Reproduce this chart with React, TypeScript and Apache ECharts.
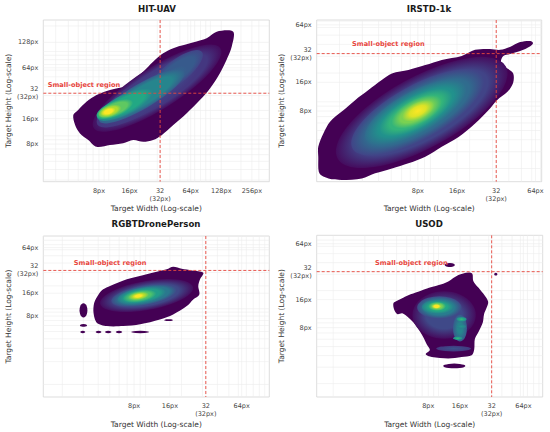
import React, { useEffect, useRef } from 'react';
import * as echarts from 'echarts';

// ---------- data (all positions in log2(px) units) ----------
const TITLES = ['HIT-UAV', 'IRSTD-1k', 'RGBTDronePerson', 'USOD'];
const X_TICKS_PX = [[8, 16, 32, 64, 128, 256], [8, 16, 32, 64], [8, 16, 32, 64], [8, 16, 32, 64]];
const Y_TICKS_PX = [[8, 16, 32, 64, 128], [8, 16, 32, 64], [8, 16, 32, 64], [8, 16, 32, 64]];
const X_RANGE = [[1.18, 8.57], [0.42, 6.16], [0.47, 6.77], [-0.52, 6.61]];
const Y_RANGE = [[1.52, 7.88], [0.54, 6.17], [-0.55, 6.51], [0.52, 6.3]];
const GRID_PX = [1, 2, 3, 4, 5, 6, 7, 8, 9, 10, 20, 30, 40, 50, 60, 70, 80, 90, 100, 200, 300, 400, 500, 16, 32, 64, 128, 256];
const THRESHOLD_PX = 32;
const LABEL_ANCHOR_PX = [2.5, 40];

// outer density contour (width, height) in log2 px
const OUTLINE_HIT = [
  [2.16, 4.14], [2.22, 3.75], [2.38, 3.42], [2.65, 3.16], [2.92, 2.89], [3.36, 2.96], [3.79, 3.03], [4.12, 3.16],
  [4.45, 3.09], [4.77, 3.16], [5.05, 3.35], [5.43, 3.75], [5.87, 4.21], [6.3, 4.73], [6.63, 5.19], [6.95, 5.78],
  [7.17, 6.31], [7.34, 6.83], [7.39, 7.42], [6.85, 7.42], [6.52, 7.16], [6.19, 7.03], [5.43, 6.77], [5.1, 6.57],
  [4.77, 6.24], [4.45, 5.85], [4.12, 5.52], [3.91, 5.28], [3.36, 5.13], [2.92, 4.93], [2.6, 4.67], [2.32, 4.34],
];
const OUTLINE_IRSTD = [
  [0.46, 1.41], [0.49, 0.83], [0.72, 0.65], [1.06, 0.6], [1.57, 0.65], [1.91, 0.83], [2.34, 1.0], [2.76, 1.18],
  [3.19, 1.41], [3.61, 1.76], [4.04, 2.1], [4.46, 2.57], [4.8, 3.03], [5.02, 3.38], [5.28, 3.66], [5.43, 3.98],
  [5.43, 4.32], [5.23, 4.53], [5.12, 4.71], [5.18, 4.92], [5.35, 4.99], [5.61, 5.09], [5.87, 5.26], [5.94, 5.37],
  [5.87, 5.44], [5.61, 5.4], [5.35, 5.23], [5.1, 5.13], [4.84, 5.16], [4.46, 5.13], [4.12, 4.92], [3.61, 4.78],
  [3.19, 4.6], [2.76, 4.43], [2.34, 4.31], [2.08, 4.08], [1.74, 3.73], [1.4, 3.38], [1.06, 2.98], [0.76, 2.63],
  [0.59, 2.22], [0.46, 1.76],
];
const OUTLINE_RGBT = [
  [2.33, 4.32], [2.8, 4.61], [3.35, 4.83], [3.91, 5.05], [4.09, 5.16], [4.33, 5.07], [4.61, 5.0], [4.93, 4.9],
  [4.84, 4.61], [4.79, 4.32], [4.82, 3.95], [4.65, 3.73], [4.47, 3.44], [4.09, 3.07], [3.72, 2.85], [3.17, 2.64],
  [2.7, 2.56], [2.24, 2.56], [1.96, 2.71], [1.87, 3.14], [1.89, 3.58], [2.01, 3.95], [2.14, 4.17],
];
const OUTLINE_USOD = [
  [3.42, 4.55], [3.63, 4.65], [3.95, 4.88], [4.26, 4.97], [4.39, 4.93], [4.42, 4.67], [4.58, 4.43], [4.79, 4.13],
  [4.89, 3.92], [4.84, 3.71], [4.76, 3.48], [4.72, 3.18], [4.6, 2.88], [4.47, 2.59], [4.45, 2.23], [4.37, 2.01],
  [4.05, 1.95], [3.63, 1.9], [3.11, 1.95], [2.92, 2.05], [3.05, 2.2], [2.95, 2.41], [2.79, 2.76], [2.58, 3.12],
  [2.37, 3.36], [2.18, 3.51], [2.03, 3.48], [1.92, 3.66], [1.9, 3.87], [2.0, 3.95], [2.16, 4.04], [2.37, 4.16],
  [2.68, 4.28], [3.05, 4.43],
];

// density levels: [centre w, centre h, semi-axis a, semi-axis b, angle deg, relative density]
const LEVELS_HIT = [
  [4.9, 5.2, 2.6, 0.78, 38, 0.03],
  [4.6, 4.98, 2.05, 0.6, 37, 0.16],
  [5.5, 5.8, 1.2, 0.42, 45, 0.2],
  [5.25, 5.5, 0.8, 0.3, 42, 0.28],
  [4.4, 4.88, 1.7, 0.46, 36, 0.3],
  [3.85, 4.55, 1.05, 0.37, 32, 0.45],
  [3.52, 4.38, 0.66, 0.28, 28, 0.6],
  [3.36, 4.3, 0.4, 0.21, 25, 0.75],
  [3.31, 4.28, 0.25, 0.14, 25, 0.88],
  [3.3, 4.27, 0.13, 0.08, 25, 1.0],
];
const LEVELS_IRSTD = [
  [3.1, 2.95, 2.7, 1.12, 40, 0.03],
  [3.0, 2.95, 2.1, 0.85, 40, 0.2],
  [2.95, 2.95, 1.6, 0.66, 40, 0.35],
  [2.95, 2.95, 1.15, 0.5, 40, 0.5],
  [2.97, 2.97, 0.78, 0.38, 40, 0.65],
  [3.0, 3.0, 0.48, 0.26, 40, 0.8],
  [3.0, 3.0, 0.24, 0.14, 40, 0.95],
];
const LEVELS_RGBT = [
  [1.59, 3.25, 0.11, 0.31, 0, 0.0],
  [1.59, 2.59, 0.1, 0.06, 0, 0.0],
  [1.57, 2.3, 0.07, 0.05, 0, 0.0],
  [2.01, 2.3, 0.08, 0.05, 0, 0.0],
  [2.28, 2.3, 0.09, 0.05, 0, 0.0],
  [2.58, 2.3, 0.09, 0.05, 0, 0.0],
  [3.17, 2.3, 0.25, 0.05, 0, 0.0],
  [3.96, 2.82, 0.12, 0.04, 0, 0.0],
  [3.35, 3.9, 1.35, 0.62, 18, 0.03],
  [3.28, 3.9, 0.95, 0.42, 18, 0.22],
  [3.22, 3.9, 0.7, 0.33, 18, 0.4],
  [3.16, 3.88, 0.48, 0.25, 18, 0.55],
  [3.13, 3.88, 0.3, 0.17, 18, 0.72],
  [3.12, 3.88, 0.17, 0.1, 18, 0.88],
  [3.12, 3.88, 0.08, 0.05, 18, 1.0],
];
const LEVELS_USOD = [
  [3.68, 5.24, 0.16, 0.07, 0, 0.0],
  [5.13, 4.91, 0.05, 0.05, 0, 0.0],
  [3.82, 1.63, 0.35, 0.085, 0, 0.0],
  [3.5, 3.45, 1.0, 0.85, 0, 0.03],
  [3.8, 2.25, 0.55, 0.1, 0, 0.16],
  [3.35, 3.72, 0.7, 0.4, 0, 0.22],
  [4.0, 2.98, 0.22, 0.48, 0, 0.28],
  [3.3, 3.74, 0.5, 0.25, 0, 0.42],
  [4.05, 3.3, 0.16, 0.08, 0, 0.45],
  [4.04, 3.04, 0.15, 0.07, 0, 0.42],
  [3.93, 2.62, 0.15, 0.06, 0, 0.45],
  [3.28, 3.76, 0.28, 0.16, 0, 0.6],
  [4.05, 3.3, 0.08, 0.045, 0, 0.58],
  [3.93, 2.62, 0.07, 0.035, 0, 0.58],
  [3.26, 3.76, 0.15, 0.09, 0, 0.8],
  [3.26, 3.76, 0.07, 0.045, 0, 1.0],
];
const OUTLINES = [OUTLINE_HIT, OUTLINE_IRSTD, OUTLINE_RGBT, OUTLINE_USOD];
const LEVELS = [LEVELS_HIT, LEVELS_IRSTD, LEVELS_RGBT, LEVELS_USOD];

// ---------- styling ----------
const VIRIDIS = ['#440154', '#482475', '#414487', '#355f8d', '#2a788e', '#21918c', '#22a884', '#44bf70', '#7ad151', '#bddf26', '#fde725'];
const RED = '#e8473e';
const FONT = 'DejaVu Sans';
const GRIDS = [
  { left: 43.3, top: 20, width: 226, height: 161.7 },
  { left: 316.7, top: 20, width: 225, height: 161.7 },
  { left: 43.3, top: 236, width: 226, height: 161 },
  { left: 316.7, top: 235.3, width: 226, height: 161.7 },
];
const TITLE_POS = [[157, 9], [429, 9], [156, 223.5], [429, 223.5]];

const viridis = (t: number) => echarts.color.lerp(Math.max(0, Math.min(1, t)), VIRIDIS) as string;
const fmtPx = (v: number) => {
  const p = Math.round(Math.pow(2, v));
  return p === 32 ? '32\n(32px)' : p + 'px';
};

// find the next higher level nested in this one (for a continuous shading ramp)
function innerOf(levels: number[][], idx: number) {
  const [cx, cy, a, b, angDeg, lvl] = levels[idx];
  const ang = (angDeg * Math.PI) / 180;
  for (let j = idx + 1; j < levels.length; j++) {
    const [x2, y2, a2, b2, , l2] = levels[j];
    if (l2 <= lvl) continue;
    const dx = x2 - cx, dy = y2 - cy;
    const u = dx * Math.cos(ang) + dy * Math.sin(ang);
    const v = -dx * Math.sin(ang) + dy * Math.cos(ang);
    if ((u * u) / (a * a) + (v * v) / (b * b) < 1) {
      return { f: Math.min(0.95, Math.sqrt((a2 * b2) / (a * b))), lvl: l2 };
    }
  }
  return null;
}

function buildOption() {
  const grid: any[] = [];
  const xAxis: any[] = [];
  const yAxis: any[] = [];
  const series: any[] = [];
  const graphic: any[] = [];

  for (let i = 0; i < 4; i++) {
    grid.push({ ...GRIDS[i], show: true, borderColor: '#d4d4d4', borderWidth: 0.8, backgroundColor: '#ffffff' });
    xAxis.push({
      gridIndex: i, type: 'value', min: X_RANGE[i][0], max: X_RANGE[i][1],
      axisLine: { show: false }, axisTick: { show: false }, splitLine: { show: false },
      axisLabel: { customValues: X_TICKS_PX[i].map(Math.log2), formatter: fmtPx, fontSize: 6.5, color: '#444', fontFamily: FONT, margin: 5, lineHeight: 8 },
      name: 'Target Width (Log-scale)', nameLocation: 'middle', nameGap: 23,
      nameTextStyle: { fontSize: 7.5, color: '#333', fontFamily: FONT },
    });
    yAxis.push({
      gridIndex: i, type: 'value', min: Y_RANGE[i][0], max: Y_RANGE[i][1],
      axisLine: { show: false }, axisTick: { show: false }, splitLine: { show: false },
      axisLabel: { customValues: Y_TICKS_PX[i].map(Math.log2), formatter: fmtPx, fontSize: 6.5, color: '#444', fontFamily: FONT, margin: 5, lineHeight: 8 },
      name: 'Target Height (Log-scale)', nameLocation: 'middle', nameGap: 31,
      nameTextStyle: { fontSize: 7.5, color: '#333', fontFamily: FONT },
    });

    const yMid = (Y_RANGE[i][0] + Y_RANGE[i][1]) / 2;
    const xMid = (X_RANGE[i][0] + X_RANGE[i][1]) / 2;
    const gridData: number[][] = [];
    GRID_PX.forEach((v) => { gridData.push([Math.log2(v), 0]); gridData.push([Math.log2(v), 1]); });

    // light log grid
    series.push({
      type: 'custom', xAxisIndex: i, yAxisIndex: i, z: 1, silent: true, clip: true,
      data: gridData,
      renderItem: (params: any, api: any) => {
        const cs = params.coordSys;
        const v = api.value(0);
        if (api.value(1) === 0) {
          const p = api.coord([v, yMid]);
          if (p[0] < cs.x || p[0] > cs.x + cs.width) return null;
          return { type: 'line', shape: { x1: p[0], y1: cs.y, x2: p[0], y2: cs.y + cs.height }, style: { stroke: '#ececec', lineWidth: 0.6 } };
        }
        const p = api.coord([xMid, v]);
        if (p[1] < cs.y || p[1] > cs.y + cs.height) return null;
        return { type: 'line', shape: { x1: cs.x, y1: p[1], x2: cs.x + cs.width, y2: p[1] }, style: { stroke: '#ececec', lineWidth: 0.6 } };
      },
    });

    // outer contour
    const outline = OUTLINES[i];
    series.push({
      type: 'custom', xAxisIndex: i, yAxisIndex: i, z: 2, silent: true, clip: true,
      data: outline,
      renderItem: (params: any, api: any) => {
        if (params.dataIndex !== 0) return null;
        const pts = outline.map((p) => api.coord(p));
        return { type: 'polygon', shape: { points: pts, smooth: 0.3 }, style: { fill: viridis(0), stroke: null } };
      },
    });

    // density levels, each an ellipse with a radial ramp towards the next nested level
    const levels = LEVELS[i];
    series.push({
      type: 'custom', xAxisIndex: i, yAxisIndex: i, z: 3, silent: true, clip: true,
      data: levels,
      renderItem: (params: any, api: any) => {
        const cx = api.value(0), cy = api.value(1), a = api.value(2), b = api.value(3);
        const ang = (api.value(4) * Math.PI) / 180, lvl = api.value(5);
        const c = api.coord([cx, cy]);
        const pu = api.coord([cx + a * Math.cos(ang), cy + a * Math.sin(ang)]);
        const pv = api.coord([cx - b * Math.sin(ang), cy + b * Math.cos(ang)]);
        const m00 = pu[0] - c[0], m10 = pu[1] - c[1], m01 = pv[0] - c[0], m11 = pv[1] - c[1];
        const E = (m00 + m11) / 2, F = (m00 - m11) / 2, G = (m10 + m01) / 2, H = (m10 - m01) / 2;
        const Q = Math.sqrt(E * E + H * H), R = Math.sqrt(F * F + G * G);
        const s1 = Q + R, s2 = Math.abs(Q - R);
        const phi = (Math.atan2(H, E) + Math.atan2(G, F)) / 2;
        const inner = lvl > 0 ? innerOf(levels, params.dataIndex) : null;
        let fill: any;
        if (lvl <= 0) fill = viridis(0);
        else if (inner) {
          fill = {
            type: 'radial', x: 0.5, y: 0.5, r: 0.5,
            colorStops: [{ offset: 0, color: viridis(inner.lvl) }, { offset: inner.f, color: viridis(inner.lvl) }, { offset: 1, color: viridis(lvl) }],
          };
        } else {
          fill = { type: 'radial', x: 0.5, y: 0.5, r: 0.5, colorStops: [{ offset: 0, color: viridis(lvl + 0.1) }, { offset: 1, color: viridis(lvl) }] };
        }
        return {
          type: 'circle', x: c[0], y: c[1], rotation: -phi, scaleX: s1, scaleY: s2,
          shape: { cx: 0, cy: 0, r: 1 }, style: { fill },
        };
      },
    });

    // small-object threshold lines + label
    series.push({
      type: 'custom', xAxisIndex: i, yAxisIndex: i, z: 5, silent: true, clip: false,
      data: [[Math.log2(THRESHOLD_PX), Math.log2(THRESHOLD_PX), 0], [Math.log2(LABEL_ANCHOR_PX[0]), Math.log2(LABEL_ANCHOR_PX[1]), 1]],
      renderItem: (params: any, api: any) => {
        const cs = params.coordSys;
        const p = api.coord([api.value(0), api.value(1)]);
        if (api.value(2) === 1) {
          return { type: 'text', x: p[0], y: p[1], style: { text: 'Small-object region', fill: RED, font: `bold 6.6px "${FONT}"`, align: 'left', verticalAlign: 'middle' } };
        }
        const st = { stroke: RED, lineWidth: 1, lineDash: [3, 2], opacity: 0.9 };
        return {
          type: 'group', children: [
            { type: 'line', shape: { x1: p[0], y1: cs.y, x2: p[0], y2: cs.y + cs.height }, style: st },
            { type: 'line', shape: { x1: cs.x, y1: p[1], x2: cs.x + cs.width, y2: p[1] }, style: st },
          ],
        };
      },
    });

    graphic.push({
      type: 'text', x: TITLE_POS[i][0], y: TITLE_POS[i][1],
      style: { text: TITLES[i], fill: '#1a1a1a', font: `bold 8.6px "${FONT}"`, align: 'center', verticalAlign: 'middle' },
    });
  }

  return { animation: false, backgroundColor: '#ffffff', grid, xAxis, yAxis, series, graphic };
}

export default function App() {
  const ref = useRef<HTMLDivElement>(null);
  useEffect(() => {
    document.body.style.margin = '0';
    const chart = echarts.init(ref.current!, undefined, { renderer: 'svg' });
    chart.setOption(buildOption() as any);
    return () => chart.dispose();
  }, []);
  return <div ref={ref} style={{ position: 'absolute', left: 0, top: 0, width: 550, height: 432 }} />;
}
